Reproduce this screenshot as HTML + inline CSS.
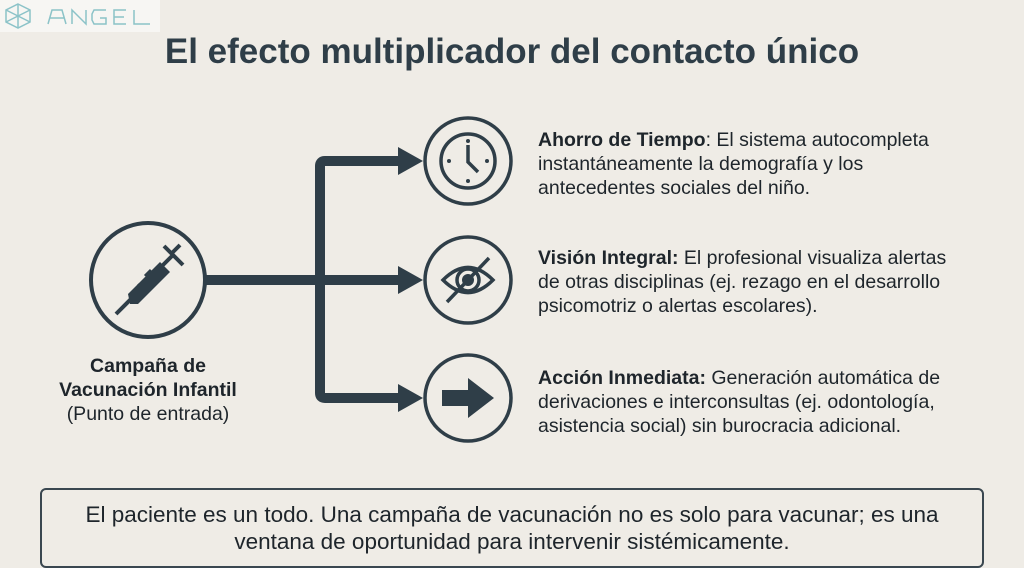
<!DOCTYPE html>
<html><head><meta charset="utf-8"><style>
html,body{margin:0;padding:0}
body{width:1024px;height:553px;overflow:hidden;background:#efece6;font-family:"Liberation Sans",sans-serif;color:#1e252b;position:relative}
.t{position:absolute;left:0;width:1024px;top:32px;text-align:center;font-size:35px;font-weight:bold;color:#2f3e48}
.logo{position:absolute;left:0;top:0;width:160px;height:32px;background:#f7f6f3}
.txt{position:absolute;left:538px;font-size:19.5px;line-height:24px;width:428px}
.lab{position:absolute;left:38px;width:220px;text-align:center;top:354px;font-size:19.5px;line-height:24px}
.box{position:absolute;left:40px;top:488px;width:944px;height:80px;border:2px solid #3a4750;border-radius:6px;box-sizing:border-box;text-align:center;font-size:22.5px;line-height:27px;padding-top:11px}
</style></head><body>
<div class="logo"><svg width="160" height="32"><g stroke="#8cc3c8" stroke-width="1.5" fill="none"><polygon points="18,4 30,10 30,22 18,28 6,22 6,10"/><line x1="6" y1="10" x2="30" y2="22"/><line x1="30" y1="10" x2="6" y2="22"/><line x1="18" y1="4" x2="18" y2="28"/><path d="M48 24 L52 10 H62 L66 24 M50 18 H64"/><path d="M72 24 V10 L86 24 V10"/><path d="M106 10 H94 L92 14 V20 L94 24 H106 V18 H100"/><path d="M126 10 H114 V24 H126 M114 17 H124"/><path d="M134 10 V24 H150"/></g></svg></div>
<div class="t">El efecto multiplicador del contacto único</div>
<svg style="position:absolute;left:0;top:0" width="1024" height="553">
<g fill="none" stroke="#2f3e48">
<circle cx="148" cy="280" r="57" stroke-width="4"/>
<circle cx="468" cy="161" r="43" stroke-width="3.5"/>
<circle cx="468" cy="280" r="43" stroke-width="3.5"/>
<circle cx="468" cy="398" r="43" stroke-width="3.5"/>
<path d="M205 280 H400 M400 161 H325 Q320 161 320 166 V393 Q320 398 325 398 H400" stroke-width="10"/>
<circle cx="468" cy="161" r="27" stroke-width="3.5"/>
<path d="M468 145 V162 L478 172" stroke-width="3.5"/>
<path d="M443 280 Q468 255 493 280 Q468 305 443 280 Z" stroke-width="3.5"/>
<circle cx="468" cy="280" r="11" stroke-width="3.5"/>
<line x1="447" y1="302" x2="489" y2="258" stroke-width="3.5"/>
<path d="M116 314 L134 296 M150 278 L172 256 M164 246 L183 265 M172 253 L180 245" stroke-width="4"/>
<path d="M145 276 L151 270 M153 284 L159 278 M138 284 L144 290" stroke-width="3"/>
</g>
<g fill="#2f3e48">
<polygon points="398,147 423,161 398,175"/>
<polygon points="398,266 423,280 398,294"/>
<polygon points="398,384 423,398 398,412"/>
<circle cx="468" cy="280" r="6"/>
<circle cx="449" cy="161" r="2"/><circle cx="487" cy="161" r="2"/><circle cx="468" cy="181" r="2"/><circle cx="468" cy="141" r="2"/>
<polygon points="442,390 468,390 468,378 494,398 468,418 468,406 442,406"/>
<polygon points="128,294 160,262 170,272 138,304 130,304"/>
</g>
</svg>
<div class="lab"><b>Campaña de<br>Vacunación Infantil</b><br>(Punto de entrada)</div>
<div class="txt" style="top:128px"><b>Ahorro de Tiempo</b>: El sistema autocompleta instantáneamente la demografía y los<br>antecedentes sociales del niño.</div>
<div class="txt" style="top:246px"><b>Visión Integral:</b> El profesional visualiza alertas de otras disciplinas (ej. rezago en el desarrollo psicomotriz o alertas escolares).</div>
<div class="txt" style="top:366px"><b>Acción Inmediata:</b> Generación automática de derivaciones e interconsultas (ej. odontología, asistencia social) sin burocracia adicional.</div>
<div class="box">El paciente es un todo. Una campaña de vacunación no es solo para vacunar; es una<br>ventana de oportunidad para intervenir sistémicamente.</div>
</body></html>
